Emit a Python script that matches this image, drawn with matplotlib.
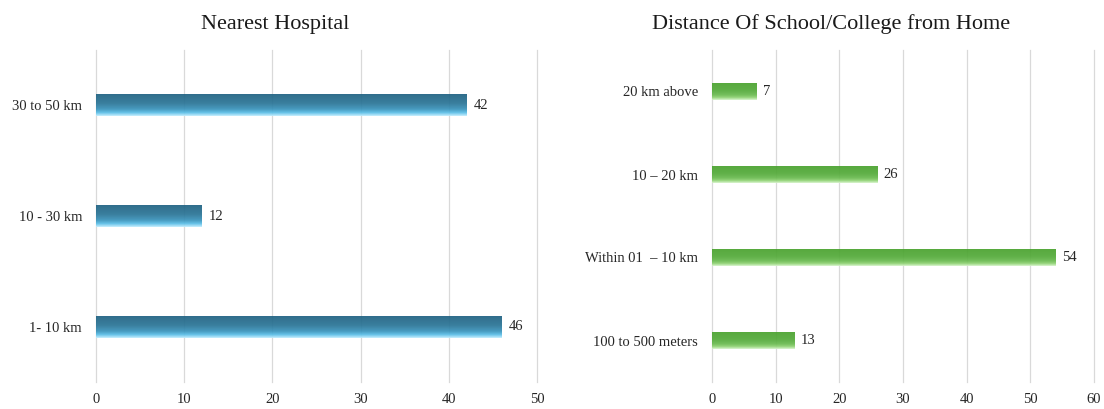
import numpy as np
import matplotlib.pyplot as plt
from matplotlib.colors import LinearSegmentedColormap

plt.rcParams["font.family"] = ["Liberation Serif", "DejaVu Serif"]

hospital_labels = ["1- 10 km", "10 - 30 km", "30 to 50 km"]
hospital_counts = [46, 12, 42]

school_labels = ["100 to 500 meters", "Within 01  – 10 km", "10 – 20 km", "20 km above"]
school_counts = [13, 54, 26, 7]

blue_grad = LinearSegmentedColormap.from_list(
    "blue_grad", [(0, "#1f6080"), (0.45, "#2b7597"), (0.7, "#3a93bb"),
                  (0.85, "#58bde6"), (1, "#c6efff")])
green_grad = LinearSegmentedColormap.from_list(
    "green_grad", [(0, "#4aa32f"), (0.45, "#55ab3b"), (0.7, "#6abb50"),
                   (0.85, "#8fd273"), (1, "#daf5cf")])


def gradient_barh(ax, labels, values, cmap, xmax, xstep):
    y = np.arange(len(values))
    bars = ax.barh(y, values, height=0.2, color="none", edgecolor="none", zorder=2)
    grad = np.linspace(0, 1, 256).reshape(-1, 1)
    for bar, v in zip(bars, values):
        x0, y0 = bar.get_x(), bar.get_y()
        w, h = bar.get_width(), bar.get_height()
        im = ax.imshow(grad, cmap=cmap, aspect="auto", origin="upper", alpha=0.93,
                       extent=(x0, x0 + w, y0, y0 + h), zorder=2)
        im.set_clip_path(bar)
        ax.text(x0 + w + xmax * 0.016, y0 + h / 2, f"{v}", va="center",
                ha="left", fontsize=10.5, color="#262626")
    ax.set_xlim(0, xmax)
    ax.set_ylim(-0.5, len(values) - 0.5)
    ax.set_yticks(y)
    ax.set_yticklabels(labels)
    ax.set_xticks(np.arange(0, xmax + 1, xstep))
    ax.grid(axis="x", color="#d9d9d9", linewidth=0.9, zorder=1, clip_on=False)
    ax.set_axisbelow(True)
    for s in ax.spines.values():
        s.set_visible(False)
    ax.tick_params(axis="y", length=0, pad=10, labelsize=10.5, colors="#262626")
    ax.tick_params(axis="x", length=0, pad=8, labelsize=10.5, colors="#262626")


fig = plt.figure(figsize=(11.04, 4.09), dpi=100)

ax1 = fig.add_axes([96 / 1104, 1 - 382 / 409, (537 - 96) / 1104, 332 / 409])
gradient_barh(ax1, hospital_labels, hospital_counts, blue_grad, 50, 10)

ax2 = fig.add_axes([712 / 1104, 1 - 382 / 409, (1094 - 712) / 1104, 332 / 409])
gradient_barh(ax2, school_labels, school_counts, green_grad, 60, 10)

fig.text(275 / 1104, 1 - 24 / 409, "Nearest Hospital", ha="center", va="center",
         fontsize=16, color="#1a1a1a")
fig.text(831 / 1104, 1 - 24 / 409, "Distance Of School/College from Home",
         ha="center", va="center", fontsize=16, color="#1a1a1a")

fig.savefig("out.png", dpi=100)
